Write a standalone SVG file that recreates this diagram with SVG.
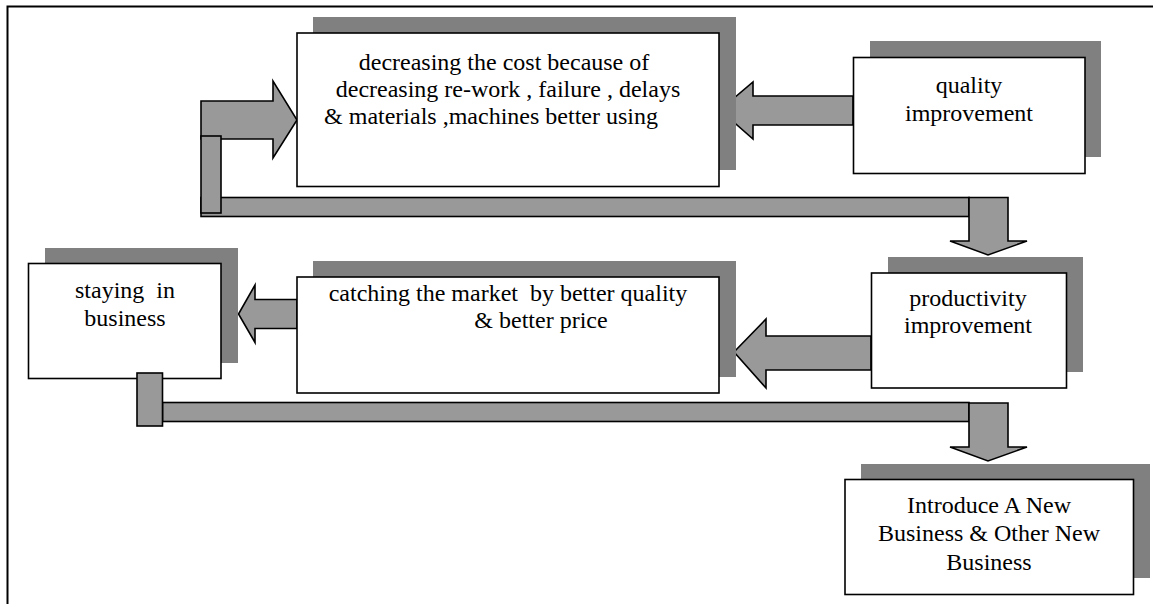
<svg xmlns="http://www.w3.org/2000/svg" width="1153" height="604" viewBox="0 0 1153 604">
  <style>
    .shadow { fill: #808080; }
    .box { fill: #ffffff; stroke: #000000; stroke-width: 1.6; }
    .flow { fill: #999999; stroke: #000000; stroke-width: 1.6; stroke-linejoin: miter; }
    .label { font-family: "Liberation Serif", "Times New Roman", serif; font-size: 24px; fill: #000000; text-anchor: middle; white-space: pre; }
    .frame { fill: none; stroke: #000000; stroke-width: 2; }
  </style>

  <rect x="0" y="0" width="1153" height="604" fill="#ffffff"/>

  <!-- page frame: top and left rules -->
  <path class="frame" d="M7.5 604 V6.5 H1153"/>

  <!-- connectors -->
  <g id="connectors">
    <!-- loop from the cost box back down to productivity -->
    <rect class="flow" x="201" y="197.5" width="768" height="19"/>
    <polygon class="flow" points="201,101 273,101 273,81 297,120 273,158 273,139 201,139"/>
    <rect class="flow" x="201" y="136" width="20" height="77"/>
    <polygon class="flow" points="969,197.5 1008,197.5 1008,241 1027,241 988,255 950,241 969,241"/>

    <!-- quality improvement -> cost box -->
    <polygon class="flow" points="853,96 753,96 753,82 720,110 753,139 753,125 853,125"/>

    <!-- productivity -> catching the market -->
    <polygon class="flow" points="871,336 766,336 766,319 734,352 766,388 766,370 871,370"/>

    <!-- catching the market -> staying in business -->
    <polygon class="flow" points="297,299.5 255,299.5 255,285 238.5,314 255,342.5 255,328.5 297,328.5"/>

    <!-- staying in business -> new business -->
    <rect class="flow" x="162.5" y="402.5" width="806.5" height="19"/>
    <polygon class="flow" points="969,403 1008,403 1008,447 1027,447 988,461 950,447 969,447"/>
  </g>

  <!-- nodes -->
  <g id="node-cost">
    <rect class="shadow" x="313" y="17" width="423" height="153"/>
    <rect class="box" x="297" y="33" width="422" height="153.5"/>
    <text class="label" x="504" y="70">decreasing the cost because of</text>
    <text class="label" x="508" y="97">decreasing re-work , failure , delays</text>
    <text class="label" x="491" y="124">&amp; materials ,machines better using</text>
  </g>

  <g id="node-quality">
    <rect class="shadow" x="870" y="41" width="231" height="116"/>
    <rect class="box" x="853.5" y="57.5" width="231.5" height="116"/>
    <text class="label" x="969" y="93">quality</text>
    <text class="label" x="969" y="121">improvement</text>
  </g>

  <g id="node-productivity">
    <rect class="shadow" x="888" y="257" width="195" height="115"/>
    <rect class="box" x="871.5" y="273" width="195" height="115"/>
    <text class="label" x="968" y="306">productivity</text>
    <text class="label" x="968" y="333">improvement</text>
  </g>

  <g id="node-market">
    <rect class="shadow" x="313" y="261" width="423" height="116"/>
    <rect class="box" x="297" y="277" width="422" height="116"/>
    <text class="label" x="508" y="301" xml:space="preserve">catching the market  by better quality</text>
    <text class="label" x="541" y="328">&amp; better price</text>
  </g>

  <g id="node-staying">
    <rect class="shadow" x="45" y="248" width="193" height="115"/>
    <rect class="box" x="28.5" y="263.5" width="192.5" height="115"/>
    <text class="label" x="125" y="298" xml:space="preserve">staying  in</text>
    <text class="label" x="125" y="326">business</text>
  </g>

  <!-- sits over the lower edge of the staying box -->
  <rect class="flow" x="137" y="373" width="25.5" height="53"/>

  <g id="node-new-business">
    <rect class="shadow" x="861" y="464" width="289" height="114"/>
    <rect class="box" x="845" y="479.5" width="288.5" height="115"/>
    <text class="label" x="989" y="513">Introduce A New</text>
    <text class="label" x="989" y="541">Business &amp; Other New</text>
    <text class="label" x="989" y="570">Business</text>
  </g>
</svg>
